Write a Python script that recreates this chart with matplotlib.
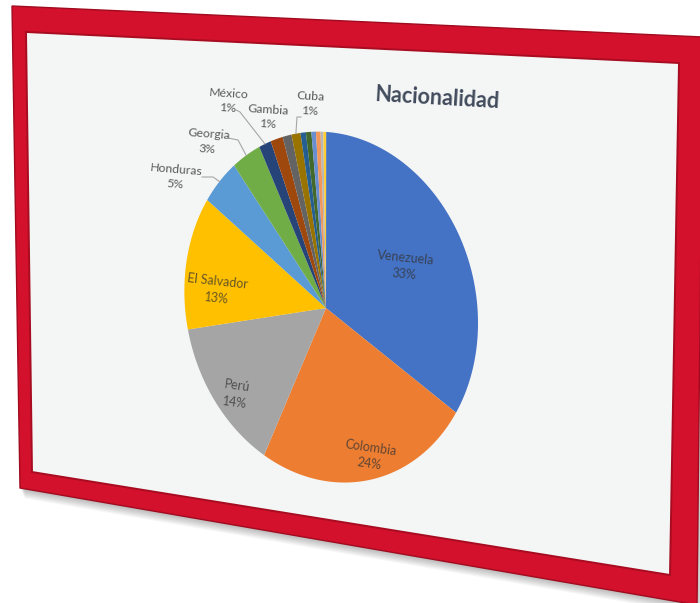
import numpy as np
import matplotlib
matplotlib.use("Agg")
import matplotlib.pyplot as plt
from matplotlib.path import Path
from matplotlib.patches import Polygon
from matplotlib.transforms import Transform, Affine2D

plt.rcParams['font.family'] = ['Lato', 'DejaVu Sans']

# ---- data ----
countries = ["Venezuela", "Colombia", "Perú", "El Salvador", "Honduras", "Georgia",
             "México", "Gambia", "", "Cuba", "", "", "", "", "", ""]
shares = [33.4, 23.7, 14.4, 12.9, 4.6, 3.4,
          1.4, 1.4, 1.0, 1.0, 0.6, 0.6, 0.5, 0.5, 0.3, 0.3]
colors = ["#4472C4", "#ED7D31", "#A5A5A5", "#FFC000", "#5B9BD5", "#70AD47",
          "#264478", "#9E480E", "#636363", "#997300", "#255E91", "#43682B",
          "#698ED0", "#F1975A", "#B7B7B7", "#FFCD33"]
title = "Nacionalidad"

# label anchors (pixels) and which ones sit outside with a leader line
label_pos = {"Venezuela": (405, 266), "Colombia": (370, 456), "Perú": (236, 394),
             "El Salvador": (217, 290), "Honduras": (176, 177), "Georgia": (208, 142),
             "México": (228, 101), "Gambia": (268, 117), "Cuba": (310, 104)}
leader_start = {"Honduras": [(202, 177), (213, 177)], "Georgia": [(228, 138), (238, 140)],
                "México": [(236, 110), (240, 112)], "Cuba": [(301, 117), (297, 117)]}
inside = {"Venezuela", "Colombia", "Perú", "El Salvador"}

W, H_PX = 700, 603


def fit_homography(src, dst):
    rows = []
    for (x, y), (u, v) in zip(src, dst):
        rows.append([x, y, 1, 0, 0, 0, -u * x, -u * y, -u])
        rows.append([0, 0, 0, x, y, 1, -v * x, -v * y, -v])
    _, _, vt = np.linalg.svd(np.array(rows, float))
    return vt[-1].reshape(3, 3) / vt[-1][-1]


class Perspective(Transform):
    """Projective map from slide units to image pixels."""
    input_dims = output_dims = 2
    is_separable = False

    def __init__(self, mat):
        super().__init__()
        self.mat = mat

    def transform_non_affine(self, values):
        v = np.asarray(values, float)
        p = np.column_stack([v, np.ones(len(v))]) @ self.mat.T
        return p[:, :2] / p[:, 2:]

    def transform_path_non_affine(self, path):
        pts, codes = [], []
        for seg, code in path.iter_bezier():
            if code == Path.MOVETO:
                pts.append(seg.control_points)
                codes.append(Path.MOVETO)
            else:
                t = np.linspace(0, 1, 24)[1:]
                pts.append(seg(t))
                codes += [Path.LINETO] * len(t)
        return Path(self.transform_non_affine(np.vstack(pts)), codes)


# slide panel corners and the outer frame, in pixels
panel = [(26, 32), (679, 63), (670, 575), (32, 472)]
frame = [(12, 6), (703, 37), (697, 605), (20, 488)]

Hm = fit_homography([(0, 0), (1, 0), (1, 1), (0, 1)], panel)
Hinv = np.linalg.inv(Hm)
persp = Perspective(Hm)


def to_slide(p):
    q = Hinv @ np.array([p[0], p[1], 1.0])
    return q[:2] / q[2]


def local_angle(p):
    s = to_slide(p)
    a, b = persp.transform(np.array([s, s + [0.01, 0]]))
    return -np.degrees(np.arctan2(b[1] - a[1], b[0] - a[0]))


fig = plt.figure(figsize=(W / 100, H_PX / 100), dpi=100)
ax = fig.add_axes([0, 0, 1, 1])

# soft shadow under the frame
for k in range(1, 9):
    ax.add_patch(Polygon([(x + k * 0.6, y + k * 1.3) for x, y in frame], closed=True,
                         facecolor="black", edgecolor="none", alpha=0.035, zorder=1))
ax.add_patch(Polygon(frame, closed=True, facecolor="#D3112C", edgecolor="#A00B1F",
                     linewidth=1.0, zorder=2))
ax.add_patch(Polygon(panel, closed=True, facecolor="#F4F5F5", edgecolor="#A80C21",
                     linewidth=1.4, zorder=3))

# pie geometry in slide units
cu, cv = to_slide((326, 308))
rv = cv - to_slide((327, 132))[1]
ru = (to_slide((480, 300))[0] - to_slide((186, 305))[0]) / 2
pie_px = Affine2D().scale(ru, -rv).translate(cu, cv) + persp

wedges, _ = ax.pie(shares, colors=colors, startangle=90, counterclock=False,
                   labeldistance=None, wedgeprops=dict(linewidth=0))
for w in wedges:
    w.set_transform(pie_px + ax.transData)
    w.set_zorder(4)

ax.set_aspect("auto")
ax.set_xlim(0, W)
ax.set_ylim(H_PX, 0)
ax.axis("off")

total = sum(shares)
for w, name, val in zip(wedges, countries, shares):
    if not name:
        continue
    txt = f"{name}\n{val / total * 100:.0f}%"
    x, y = label_pos[name]
    rot = local_angle((x, y))
    if name in inside:
        ax.text(x, y, txt, ha="center", va="center", fontsize=9, color="#333333",
                alpha=0.75, rotation=rot, rotation_mode="anchor", linespacing=1.45,
                multialignment="center", zorder=6)
    else:
        ax.text(x, y, txt, ha="center", va="center", fontsize=8.8, color="#595959",
                rotation=rot, rotation_mode="anchor", linespacing=1.45,
                multialignment="center", zorder=6)
    if name in leader_start:
        mid = np.radians((w.theta1 + w.theta2) / 2)
        end = pie_px.transform(np.array([[np.cos(mid), np.sin(mid)]]))[0]
        pts = np.array(leader_start[name] + [tuple(end)])
        ax.plot(pts[:, 0], pts[:, 1], color="#A6A6A6", linewidth=0.8, zorder=5)

ax.text(437, 98, title, ha="center", va="center", fontsize=15.5, fontweight="bold",
        color="#414B5C", rotation=local_angle((437, 98)), rotation_mode="anchor", zorder=6)

fig.savefig("out.png", dpi=100, facecolor="white")
